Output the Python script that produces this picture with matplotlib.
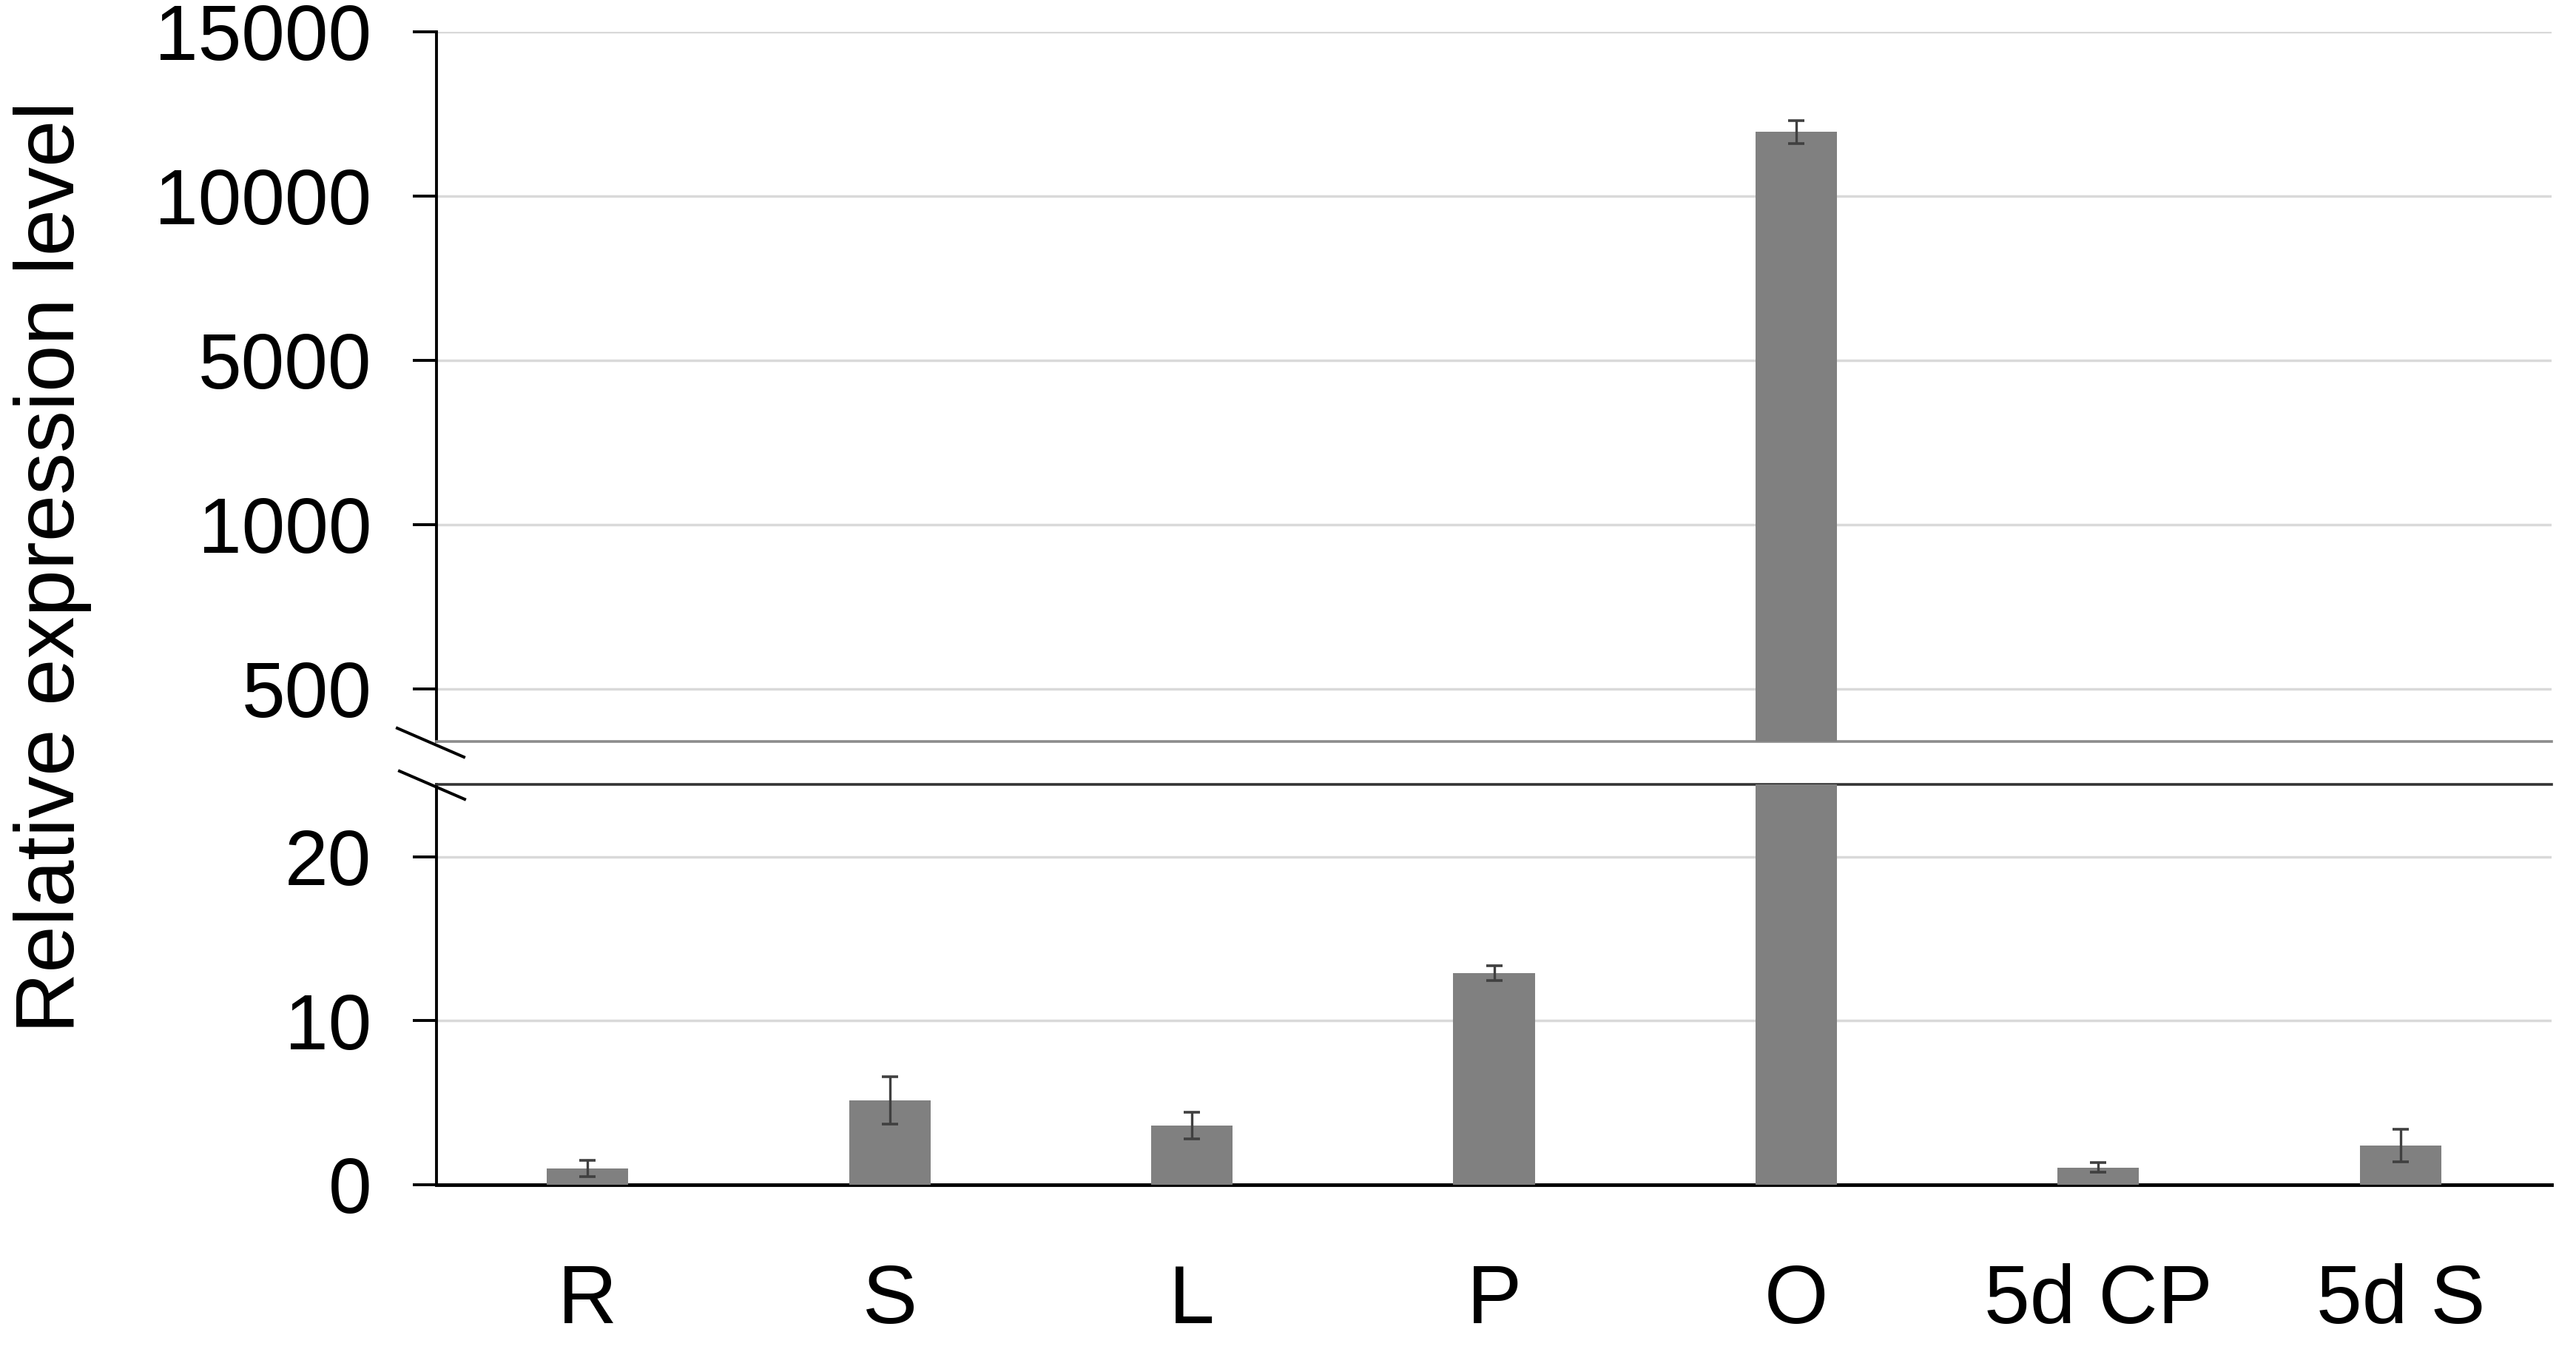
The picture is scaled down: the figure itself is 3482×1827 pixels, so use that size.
import numpy as np
import matplotlib
matplotlib.use('Agg')
from matplotlib import pyplot as plt
from matplotlib.lines import Line2D

plt.rcParams['font.family'] = ['Liberation Sans', 'DejaVu Sans']

categories = ['R', 'S', 'L', 'P', 'O', '5d CP', '5d S']
values = [1.0, 5.15, 3.6, 12.9, 11950, 1.05, 2.4]
errors = [0.5, 1.45, 0.8, 0.45, 350, 0.3, 1.0]

top_ticks = [500, 1000, 5000, 10000, 15000]
bottom_ticks = [0, 10, 20]

# upper segment: each labelled step gets equal height
seg_vals = [0, 500, 1000, 5000, 10000, 15000, 20000]
seg_pos = [-1, 0, 1, 2, 3, 4, 5]

def forward(v):
    return np.interp(v, seg_vals, seg_pos)

def inverse(u):
    return np.interp(u, seg_pos, seg_vals)

W, H = 3482, 1827
fig = plt.figure(figsize=(W / 100, H / 100), dpi=100)

left = 590 / W
width = (3449 - 590) / W
ax_top = fig.add_axes([left, 1 - 1002 / H, width, (1002 - 43) / H])
ax_bot = fig.add_axes([left, 1 - 1601 / H, width, (1601 - 1060) / H])

x = np.arange(len(categories))
bar_color = '#808080'
err_kw = dict(ecolor='#404040', elinewidth=2.4, capsize=8, capthick=2.6)

for ax in (ax_top, ax_bot):
    ax.bar(x, values, width=0.27, color=bar_color, yerr=errors,
           error_kw=err_kw, zorder=3)
    ax.set_xlim(-0.5, len(categories) - 0.5)
    ax.yaxis.grid(True, color='#d9d9d9', linewidth=2.5, zorder=0)
    ax.set_axisbelow(True)
    ax.spines['right'].set_visible(False)
    ax.spines['left'].set_linewidth(2.8)
    ax.tick_params(axis='y', labelsize=76, length=23, width=2.8, pad=40,
                   direction='out')

ax_top.set_yscale('function', functions=(forward, inverse))
ax_top.set_ylim(340, 15000)
ax_top.set_yticks(top_ticks)
ax_top.set_yticklabels([str(t) for t in top_ticks])
ax_top.yaxis.set_minor_locator(matplotlib.ticker.NullLocator())
ax_top.spines['top'].set_visible(False)
ax_top.spines['bottom'].set_color('#8c8c8c')
ax_top.spines['bottom'].set_linewidth(2.6)
ax_top.tick_params(axis='x', bottom=False, labelbottom=False)

ax_bot.set_ylim(0, 24.4)
ax_bot.set_yticks(bottom_ticks)
ax_bot.set_yticklabels([str(t) for t in bottom_ticks])
ax_bot.spines['top'].set_color('#333333')
ax_bot.spines['top'].set_linewidth(2.6)
ax_bot.spines['bottom'].set_linewidth(3.5)
ax_bot.set_xticks(x)
ax_bot.set_xticklabels(categories)
ax_bot.tick_params(axis='x', length=0, labelsize=80, pad=76)

# break marks on the y axis
for (x0, y0, x1, y1) in [(537, 984, 627, 1023), (540, 1042, 628, 1080)]:
    fig.add_artist(Line2D([x0 / W, x1 / W], [1 - y0 / H, 1 - y1 / H],
                          transform=fig.transFigure, color='black',
                          linewidth=2.9))

fig.text(71 / W, 1 - 766 / H, 'Relative expression level', rotation=90,
         ha='center', va='center', fontsize=82)

fig.savefig('out.png', dpi=100, facecolor='white')
